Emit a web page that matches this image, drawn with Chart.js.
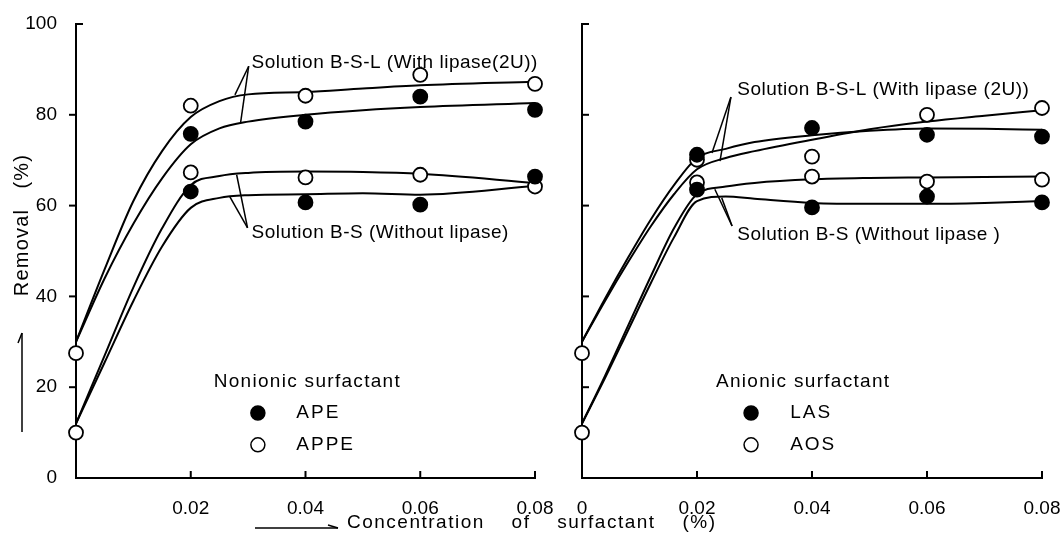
<!DOCTYPE html>
<html>
<head>
<meta charset="utf-8">
<script src="https://cdn.jsdelivr.net/npm/chart.js@4.4.1/dist/chart.umd.min.js"></script>
<style>
  body { margin: 0; background: #fff; }
  #page { position: relative; width: 1064px; height: 537px; overflow: hidden; }
  #wrapLeft { position: absolute; left: 0; top: 0; width: 1064px; height: 537px; }
  #wrapRight { position: absolute; left: 540px; top: 0; width: 524px; height: 537px; }
</style>
</head>
<body>
<div id="page">
  <div id="wrapLeft"><canvas id="nonionic"></canvas></div>
  <div id="wrapRight"><canvas id="anionic"></canvas></div>
</div>
<script>
// measured points, x = surfactant concentration (%)
const concentration = [0, 0.02, 0.04, 0.06, 0.08];

// nonionic panel
const apeWithLipase     = [null, 75.8, 78.5, 84.0, 81.1];
const appeWithLipase    = [27.5, 82.0, 84.2, 88.8, 86.8];
const apeWithoutLipase  = [null, 63.1, 60.7, 60.2, 66.4];
const appeWithoutLipase = [10.0, 67.3, 66.2, 66.8, 64.2];

// anionic panel
const lasWithLipase     = [null, 71.2, 77.1, 75.6, 75.2];
const aosWithLipase     = [27.5, 70.1, 70.8, 80.0, 81.5];
const lasWithoutLipase  = [null, 63.5, 59.6, 62.0, 60.7];
const aosWithoutLipase  = [10.0, 65.1, 66.4, 65.3, 65.7];

// hand drawn fitted curves
const curveConcLeft     = [0, 0.005, 0.01, 0.015, 0.02, 0.025, 0.03, 0.04, 0.05, 0.06, 0.08];
const curveAppeWith     = [30, 46, 61, 72, 79.5, 83, 84.5, 85, 85.8, 86.5, 87.3];
const curveApeWith      = [30, 44, 56, 66, 73.5, 77, 78.5, 80, 81, 81.7, 82.6];
const curveAppeWithout  = [12, 27, 42, 55, 64.5, 66.5, 67.2, 67.5, 67.4, 67, 65];
const curveApeWithout   = [12, 25.5, 39, 51, 59.5, 61.7, 62.3, 62.5, 62.7, 62.4, 64.3];

const curveConcRight    = [0, 0.004, 0.008, 0.012, 0.016, 0.02, 0.025, 0.03, 0.04, 0.05, 0.06, 0.07, 0.08];
const curveLasWith      = [30, 39.5, 48.5, 57, 64.5, 70.5, 72.5, 74, 75.5, 76.5, 77, 76.9, 76.7];
const curveAosWith      = [30, 39, 47.5, 55.5, 62.5, 68, 70.5, 72, 74.5, 76.8, 78.5, 79.8, 81];
const curveAosWithout   = [12, 22.5, 33.5, 44.5, 55, 62.5, 64.2, 65, 65.8, 66.1, 66.2, 66.3, 66.4];
const curveLasWithout   = [12, 22, 32.5, 43, 53, 61, 62, 61.5, 60.6, 60.4, 60.4, 60.6, 61];

const xTicks = [0, 0.02, 0.04, 0.06, 0.08];
const yTicks = [0, 20, 40, 60, 80, 100];

const FONT = '"Liberation Sans", Arial, sans-serif';
Chart.defaults.font.family = FONT;
Chart.defaults.font.size = 19;
Chart.defaults.color = '#000';

function pts(xs, ys) {
  return xs.map((x, i) => ({ x: x, y: ys[i] })).filter(p => p.y !== null);
}

function markers(ys, filled) {
  return {
    data: pts(concentration, ys),
    showLine: false,
    pointRadius: 7,
    pointHoverRadius: 7,
    pointBackgroundColor: filled ? '#000' : '#fff',
    pointBorderColor: '#000',
    pointBorderWidth: 1.8,
    clip: false,
    order: 0,
  };
}

function curve(xs, ys) {
  return {
    data: pts(xs, ys),
    showLine: true,
    borderColor: '#000',
    borderWidth: 2,
    pointRadius: 0,
    cubicInterpolationMode: 'monotone',
    fill: false,
    clip: false,
    order: 1,
  };
}

function line(ctx, x1, y1, x2, y2) {
  ctx.beginPath();
  ctx.moveTo(x1, y1);
  ctx.lineTo(x2, y2);
  ctx.stroke();
}

// ticks, notes, leader lines and the small legend
const panelDecor = {
  id: 'panelDecor',
  beforeDatasetsDraw(chart, args, opts) {
    const { ctx, chartArea: area, scales: { x, y } } = chart;
    ctx.save();
    ctx.strokeStyle = '#000';
    ctx.fillStyle = '#000';
    ctx.lineWidth = 2;

    yTicks.forEach(v => {
      if (v === 0) return;
      const py = y.getPixelForValue(v);
      const inward = opts.yTicksIn || v === 100;
      line(ctx, area.left, py, area.left + (inward ? 7 : -7), py);
    });
    xTicks.forEach(v => {
      if (v === 0) return;
      const px = x.getPixelForValue(v);
      line(ctx, px, area.bottom, px, area.bottom - 7);
    });

    ctx.lineWidth = 1.5;
    opts.leaders.forEach(l => {
      line(ctx, x.getPixelForValue(l[0]), y.getPixelForValue(l[1]),
                x.getPixelForValue(l[2]), y.getPixelForValue(l[3]));
    });

    ctx.font = '19px ' + FONT;
    ctx.letterSpacing = '0.5px';
    ctx.textBaseline = 'middle';
    ctx.textAlign = 'left';
    opts.notes.forEach(n => {
      ctx.fillText(n.text, x.getPixelForValue(n.x), y.getPixelForValue(n.y));
    });

    const lg = opts.legend;
    ctx.letterSpacing = '1.3px';
    ctx.fillText(lg.title, x.getPixelForValue(lg.titleX), y.getPixelForValue(lg.titleY));
    ctx.letterSpacing = '2px';
    lg.items.forEach(it => {
      const mx = x.getPixelForValue(lg.markerX);
      const my = y.getPixelForValue(it.y);
      ctx.beginPath();
      ctx.arc(mx, my, 7, 0, Math.PI * 2);
      ctx.fillStyle = it.filled ? '#000' : '#fff';
      ctx.fill();
      ctx.stroke();
      ctx.fillStyle = '#000';
      ctx.fillText(it.label, x.getPixelForValue(lg.textX), my);
    });

    if (opts.axisTitles) {
      // y title with its arrow
      ctx.font = '20px ' + FONT;
      ctx.letterSpacing = '1.2px';
      ctx.save();
      ctx.translate(area.left - 54, area.top + 201);
      ctx.rotate(-Math.PI / 2);
      ctx.textAlign = 'center';
      ctx.fillText('Removal   (%)', 0, 0);
      ctx.restore();
      const ax = area.left - 54;
      line(ctx, ax, area.top + 408, ax, area.top + 309);
      line(ctx, ax, area.top + 309, ax - 4, area.top + 319);

      // x title with its arrow
      ctx.font = '19px ' + FONT;
      const by = area.bottom + 50;
      line(ctx, area.left + 179, by, area.left + 262, by);
      line(ctx, area.left + 262, by, area.left + 252, by - 3);
      ctx.letterSpacing = '1.5px';
      ctx.wordSpacing = '20px';
      ctx.fillText('Concentration of surfactant (%)', area.left + 271, area.bottom + 45);
    }
    ctx.restore();
  }
};

function baseOptions(isLeft, padRight) {
  return {
    responsive: true,
    maintainAspectRatio: false,
    animation: false,
    layout: { padding: { left: 0, top: 24, right: padRight, bottom: 0 } },
    plugins: { legend: { display: false }, tooltip: { enabled: false } },
    scales: {
      x: {
        type: 'linear',
        min: 0,
        max: 0.08,
        grid: { display: false },
        border: { display: true, color: '#000', width: 2 },
        afterBuildTicks: s => { s.ticks = xTicks.map(v => ({ value: v })); },
        afterFit: s => { s.height = 59; s.paddingLeft = 0; s.paddingRight = 0; },
        ticks: {
          padding: 11,
          maxRotation: 0,
          autoSkip: false,
          callback: v => (v === 0 ? (isLeft ? '' : '0') : v.toFixed(2)),
        },
      },
      y: {
        min: 0,
        max: 100,
        grid: { display: false },
        border: { display: true, color: '#000', width: 2 },
        afterBuildTicks: s => { s.ticks = yTicks.map(v => ({ value: v })); },
        afterFit: s => { s.width = isLeft ? 76 : 42; s.paddingTop = 0; s.paddingBottom = 0; },
        ticks: {
          padding: 11,
          callback: v => (isLeft ? String(v) : ''),
        },
      },
    },
  };
}

const leftOptions = baseOptions(true, 529);
leftOptions.plugins.panelDecor = {
  yTicksIn: false,
  axisTitles: true,
  notes: [
    { text: 'Solution B-S-L (With lipase(2U))', x: 0.0306, y: 91.4 },
    { text: 'Solution B-S (Without lipase)', x: 0.0306, y: 54.0 },
  ],
  leaders: [
    [0.0301, 90.7, 0.0277, 84.4],
    [0.0301, 90.7, 0.0287, 78.4],
    [0.0299, 55.1, 0.0280, 66.8],
    [0.0299, 55.1, 0.0268, 62.0],
  ],
  legend: {
    title: 'Nonionic surfactant', titleX: 0.024, titleY: 21.1,
    markerX: 0.0317, textX: 0.0384,
    items: [
      { label: 'APE', y: 14.3, filled: true },
      { label: 'APPE', y: 7.3, filled: false },
    ],
  },
};

const rightOptions = baseOptions(false, 22);
rightOptions.plugins.panelDecor = {
  yTicksIn: true,
  axisTitles: false,
  notes: [
    { text: 'Solution B-S-L (With lipase (2U))', x: 0.0270, y: 85.5 },
    { text: 'Solution B-S (Without lipase )', x: 0.0270, y: 53.5 },
  ],
  leaders: [
    [0.0259, 83.9, 0.0226, 71.6],
    [0.0259, 83.9, 0.0240, 69.8],
    [0.0261, 55.5, 0.0231, 63.6],
    [0.0261, 55.5, 0.0243, 61.7],
  ],
  legend: {
    title: 'Anionic surfactant', titleX: 0.0233, titleY: 21.1,
    markerX: 0.0294, textX: 0.0362,
    items: [
      { label: 'LAS', y: 14.3, filled: true },
      { label: 'AOS', y: 7.3, filled: false },
    ],
  },
};

new Chart(document.getElementById('nonionic'), {
  type: 'scatter',
  data: {
    datasets: [
      markers(apeWithLipase, true),
      markers(appeWithLipase, false),
      markers(apeWithoutLipase, true),
      markers(appeWithoutLipase, false),
      curve(curveConcLeft, curveAppeWith),
      curve(curveConcLeft, curveApeWith),
      curve(curveConcLeft, curveAppeWithout),
      curve(curveConcLeft, curveApeWithout),
    ],
  },
  options: leftOptions,
  plugins: [panelDecor],
});

new Chart(document.getElementById('anionic'), {
  type: 'scatter',
  data: {
    datasets: [
      markers(lasWithLipase, true),
      markers(aosWithLipase, false),
      markers(lasWithoutLipase, true),
      markers(aosWithoutLipase, false),
      curve(curveConcRight, curveLasWith),
      curve(curveConcRight, curveAosWith),
      curve(curveConcRight, curveAosWithout),
      curve(curveConcRight, curveLasWithout),
    ],
  },
  options: rightOptions,
  plugins: [panelDecor],
});
</script>
</body>
</html>
